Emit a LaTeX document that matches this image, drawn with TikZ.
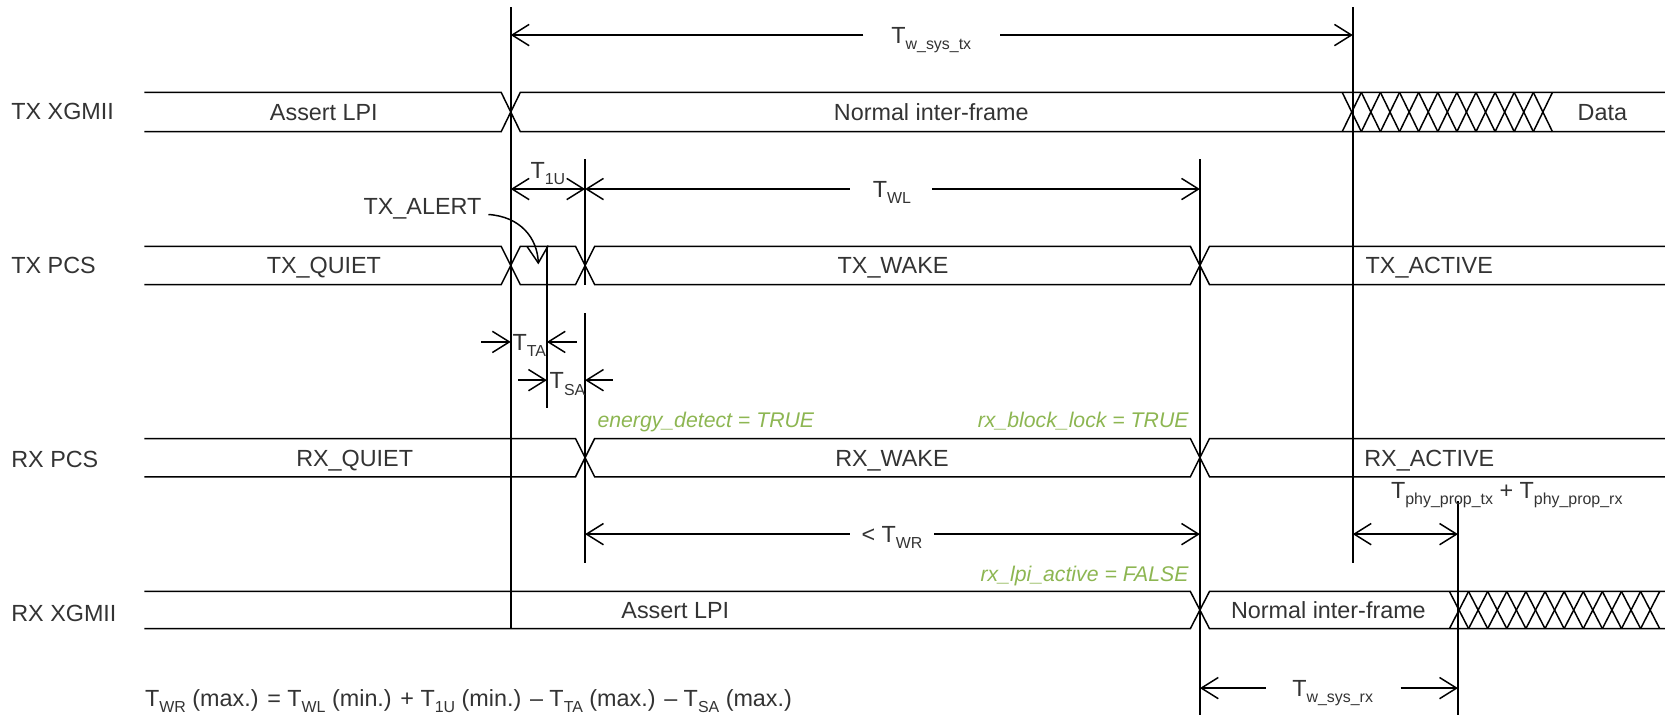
\documentclass[tikz,border=0pt]{standalone}
\usepackage{fontspec}
\setmainfont{Liberation Sans}
\usetikzlibrary{arrows.meta}
\definecolor{txt}{RGB}{51,51,51}
\definecolor{grn}{RGB}{141,182,82}
\newcommand\ssub[1]{\raisebox{-6pt}{\fontsize{15}{16}\selectfont #1}}
\begin{document}
\begin{tikzpicture}[x=1pt,y=-1pt,line width=1.4pt,
  barb/.tip={Straight Barb[length=16pt,width=20pt]},
  dimb/.style={{barb}-{barb}},
  dimr/.style={-{barb}},
  lbl/.style={text=txt,font=\fontsize{22}{26}\selectfont,inner sep=0pt},
  glbl/.style={text=grn,font=\fontsize{20}{24}\selectfont\itshape,inner sep=0pt}]
\useasboundingbox (0,0) rectangle (1568,673);

% ---- row labels
\node[lbl,anchor=base west] (ltx) at (10,113) {TX XGMII};
\node[lbl,anchor=base west] (ltp) at (10,258) {TX PCS};
\node[lbl,anchor=base west] (lrp) at (10,440) {RX PCS};
\node[lbl,anchor=base west] (lrx) at (10,585) {RX XGMII};

% ---- TX XGMII band
\draw (136,87) -- (472,87) -- (490,124) -- (1568,124);
\draw (136,124) -- (472,124) -- (490,87) -- (1568,87);
\foreach \k in {0,...,10}{
  \draw ({1264+18*\k},87) -- ({1282+18*\k},124);
  \draw ({1264+18*\k},124) -- ({1282+18*\k},87);
}
\node[lbl,anchor=base] (s1) at (305,113.5) {Assert LPI};
\node[lbl,anchor=base] (s2) at (877,113.5) {Normal inter-frame};
\node[lbl,anchor=base] (s3) at (1509,113.5) {Data};

% ---- TX PCS band
\draw (136,232) -- (472,232) -- (490,268) -- (542,268) -- (560,232) -- (1121,232) -- (1139,268) -- (1568,268);
\draw (136,268) -- (472,268) -- (490,232) -- (542,232) -- (560,268) -- (1121,268) -- (1139,232) -- (1568,232);
\node[lbl,anchor=base] (s4) at (305,258) {TX\_QUIET};
\node[lbl,anchor=base] (s5) at (841,258) {TX\_WAKE};
\node[lbl,anchor=base] (s6) at (1346,258) {TX\_ACTIVE};

% ---- RX PCS band
\draw (136,413) -- (542,413) -- (560,449) -- (1121,449) -- (1139,413) -- (1568,413);
\draw (136,449) -- (542,449) -- (560,413) -- (1121,413) -- (1139,449) -- (1568,449);
\node[lbl,anchor=base] (s7) at (334,439) {RX\_QUIET};
\node[lbl,anchor=base] (s8) at (840,439) {RX\_WAKE};
\node[lbl,anchor=base] (s9) at (1346,439) {RX\_ACTIVE};

% ---- RX XGMII band
\draw (136,557) -- (1121,557) -- (1139,592) -- (1568,592);
\draw (136,592) -- (1121,592) -- (1139,557) -- (1568,557);
\foreach \k in {0,...,10}{
  \draw ({1365+18*\k},557) -- ({1383+18*\k},592);
  \draw ({1365+18*\k},592) -- ({1383+18*\k},557);
}
\node[lbl,anchor=base] (s10) at (636,582.5) {Assert LPI};
\node[lbl,anchor=base] (s11) at (1251,582.5) {Normal inter-frame};

% ---- vertical reference lines
\coordinate (Atop) at (481,7);   \coordinate (Abot) at (481,592);
\coordinate (Btop) at (1274,7);  \coordinate (Bbot) at (1274,530);
\coordinate (Ctop) at (1130,150);\coordinate (Cbot) at (1130,673);
\coordinate (E1t) at (551,150);  \coordinate (E1b) at (551,268);
\coordinate (E2t) at (551,295);  \coordinate (E2b) at (551,530);
\coordinate (Ft) at (515,232);   \coordinate (Fb) at (515,384);
\coordinate (Dt) at (1373,472);  \coordinate (Db) at (1373,673);
\draw (Atop) -- (Abot);
\draw (Btop) -- (Bbot);
\draw (Ctop) -- (Cbot);
\draw (E1t) -- (E1b);
\draw (E2t) -- (E2b);
\draw (Ft) -- (Fb);
\draw (Dt) -- (Db);

% ---- T_w_sys_tx
\coordinate (w1) at (481,33); \coordinate (w2) at (1274,33);
\coordinate (w1g) at (813,33); \coordinate (w2g) at (942,33);
\draw[dimr] (w1g) -- (w1);
\draw[dimr] (w2g) -- (w2);
\node[lbl,anchor=base] (lwtx) at (877,41) {T\ssub{w\_sys\_tx}};

% ---- T_1U and T_WL
\coordinate (u1) at (481,178); \coordinate (u2) at (551,178);
\draw[dimb] (u1) -- (u2);
\node[lbl,anchor=base west] (l1u) at (499,168) {T\ssub{1U}};
\coordinate (wl2) at (1130,178);
\coordinate (wlg1) at (800,178); \coordinate (wlg2) at (878,178);
\draw[dimr] (wlg1) -- (u2);
\draw[dimr] (wlg2) -- (wl2);
\node[lbl,anchor=base] (lwl) at (840,186) {T\ssub{WL}};

% ---- TX_ALERT
\node[lbl,anchor=east] (alert) at (454,197) {TX\_ALERT};
\coordinate (alerttip) at (507,249);
\draw[dimr] (alert.east) ++(6,5) .. controls (490,204) and (506,224) .. (alerttip);

% ---- T_TA, T_SA
\coordinate (ta1) at (453,322); \coordinate (ta1t) at (481,322);
\coordinate (ta2) at (543,322); \coordinate (ta2t) at (515,322);
\draw[dimr] (ta1) -- (ta1t);
\draw[dimr] (ta2) -- (ta2t);
\node[lbl,anchor=base west] (lta) at (482,330) {T\ssub{TA}};
\coordinate (sa1) at (488,358); \coordinate (sa1t) at (515,358);
\coordinate (sa2) at (577,358); \coordinate (sa2t) at (551,358);
\draw[dimr] (sa1) -- (sa1t);
\draw[dimr] (sa2) -- (sa2t);
\node[lbl,anchor=base west] (lsa) at (517,366) {T\ssub{SA}};

% ---- green conditions
\node[glbl,anchor=base west] (g1) at (562,403) {energy\_detect = TRUE};
\node[glbl,anchor=base east] (g2) at (1120,403) {rx\_block\_lock = TRUE};
\node[glbl,anchor=base east] (g3) at (1120,548) {rx\_lpi\_active = FALSE};

% ---- < T_WR
\coordinate (wr1) at (551,503); \coordinate (wr2) at (1130,503);
\coordinate (wrg1) at (800,503); \coordinate (wrg2) at (880,503);
\draw[dimr] (wrg1) -- (wr1);
\draw[dimr] (wrg2) -- (wr2);
\node[lbl,anchor=base] (lwr) at (840,511) {< T\ssub{WR}};

% ---- T_phy_prop
\coordinate (p1) at (1274,503); \coordinate (p2) at (1373,503);
\draw[dimb] (p1) -- (p2);
\node[lbl,anchor=base] (lphy) at (1419,469) {T\ssub{phy\_prop\_tx} + T\ssub{phy\_prop\_rx}};

% ---- T_w_sys_rx
\coordinate (r1) at (1130,648); \coordinate (r2) at (1373,648);
\coordinate (rg1) at (1192,648); \coordinate (rg2) at (1319,648);
\draw[dimr] (rg1) -- (r1);
\draw[dimr] (rg2) -- (r2);
\node[lbl,anchor=base] (lwrx) at (1255,656) {T\ssub{w\_sys\_rx}};

% ---- formula
\node[lbl,anchor=base west] (form) at (136,665) {T\ssub{WR} (max.) = T\ssub{WL} (min.) + T\ssub{1U} (min.) – T\ssub{TA} (max.) – T\ssub{SA} (max.)};
\end{tikzpicture}
\end{document}
